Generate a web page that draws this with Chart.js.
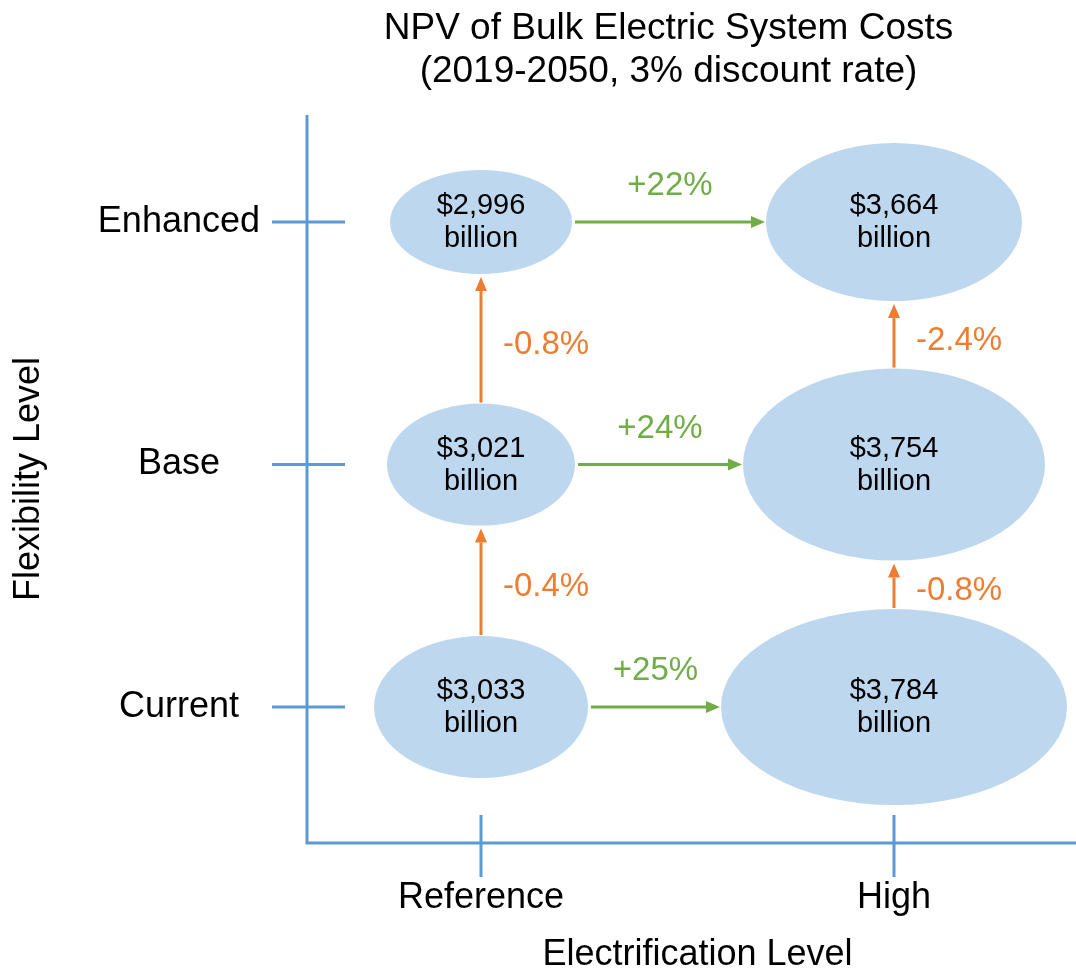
<!DOCTYPE html>
<html>
<head>
<meta charset="utf-8">
<title>NPV of Bulk Electric System Costs</title>
<script src="https://cdn.jsdelivr.net/npm/chart.js@4.4.1/dist/chart.umd.min.js"></script>
<style>
  body { margin: 0; background: #fff; }
</style>
</head>
<body>
<canvas id="grafica" width="1076" height="971"></canvas>
<script>
// Datos (orden: Current, Base, Enhanced)
const nivelesElectrificacion = ['Reference', 'High'];
const nivelesFlexibilidad = ['Current', 'Base', 'Enhanced'];
const costoReference = [3033, 3021, 2996]; // miles de millones de $
const costoHigh = [3784, 3754, 3664];
const cambioElectrificacion = ['+25%', '+24%', '+22%'];
const cambioFlexReference = ['-0.4%', '-0.8%'];
const cambioFlexHigh = ['-0.8%', '-2.4%'];

// Tamaño de cada elipse en px [rx, ry]
const radiosReference = [[107, 71], [94, 61], [91, 52]];
const radiosHigh = [[173, 98], [151, 96], [128, 79]];

const AZUL = '#5B9BD5';
const RELLENO = '#BDD7EE';
const VERDE = '#70AD47';
const NARANJA = '#ED7D31';
const FUENTE = '"Liberation Sans", Arial, sans-serif';

Chart.defaults.font.family = FUENTE;
Chart.defaults.color = '#000';

function puntos(nivel) {
    return nivelesFlexibilidad.map((_, i) => ({ x: nivel, y: i }));
}

// Dibuja una flecha con punta triangular
function flecha(ctx, x1, y1, x2, y2, color) {
    const ang = Math.atan2(y2 - y1, x2 - x1);
    const largo = 14, ancho = 6;
    const bx = x2 - largo * Math.cos(ang);
    const by = y2 - largo * Math.sin(ang);
    ctx.save();
    ctx.strokeStyle = color;
    ctx.fillStyle = color;
    ctx.lineWidth = 3;
    ctx.beginPath();
    ctx.moveTo(x1, y1);
    ctx.lineTo(bx, by);
    ctx.stroke();
    ctx.beginPath();
    ctx.moveTo(x2, y2);
    ctx.lineTo(bx - ancho * Math.sin(ang), by + ancho * Math.cos(ang));
    ctx.lineTo(bx + ancho * Math.sin(ang), by - ancho * Math.cos(ang));
    ctx.closePath();
    ctx.fill();
    ctx.restore();
}

function texto(ctx, txt, x, y, tam, color, alinear) {
    ctx.save();
    ctx.font = tam + 'px ' + FUENTE;
    ctx.fillStyle = color;
    ctx.textAlign = alinear || 'center';
    ctx.textBaseline = 'middle';
    ctx.fillText(txt, x, y);
    ctx.restore();
}

const diagrama = {
    id: 'diagrama',
    beforeDatasetsDraw(chart) {
        const { ctx, chartArea, scales } = chart;
        ctx.save();
        ctx.strokeStyle = AZUL;
        ctx.lineWidth = 3;
        ctx.beginPath();
        // ejes
        ctx.moveTo(chartArea.left, chartArea.top);
        ctx.lineTo(chartArea.left, chartArea.bottom);
        ctx.lineTo(chart.width, chartArea.bottom);
        // marcas que cruzan los ejes
        scales.y.ticks.forEach(t => {
            const y = scales.y.getPixelForValue(t.value);
            ctx.moveTo(chartArea.left - 35, y);
            ctx.lineTo(chartArea.left + 38, y);
        });
        scales.x.ticks.forEach(t => {
            const x = scales.x.getPixelForValue(t.value);
            ctx.moveTo(x, chartArea.bottom - 28);
            ctx.lineTo(x, chartArea.bottom + 34);
        });
        ctx.stroke();
        ctx.restore();
    },
    afterDatasetsDraw(chart) {
        const { ctx } = chart;
        const ref = chart.getDatasetMeta(0).data;
        const alto = chart.getDatasetMeta(1).data;

        // elipses con el costo
        [[ref, costoReference, radiosReference], [alto, costoHigh, radiosHigh]].forEach(([pts, costos, radios]) => {
            pts.forEach((p, i) => {
                ctx.save();
                ctx.fillStyle = RELLENO;
                ctx.beginPath();
                ctx.ellipse(p.x, p.y, radios[i][0], radios[i][1], 0, 0, Math.PI * 2);
                ctx.fill();
                ctx.restore();
                texto(ctx, '$' + costos[i].toLocaleString('en-US'), p.x, p.y - 16, 29, '#000');
                texto(ctx, 'billion', p.x, p.y + 17, 29, '#000');
            });
        });

        // flechas verdes: Reference -> High
        ref.forEach((p, i) => {
            const q = alto[i];
            const x1 = p.x + radiosReference[i][0] + 3;
            const x2 = q.x - radiosHigh[i][0] - 1;
            flecha(ctx, x1, p.y, x2, q.y, VERDE);
            texto(ctx, cambioElectrificacion[i], (x1 + x2) / 2, p.y - 36, 33, VERDE);
        });

        // flechas naranjas: hacia más flexibilidad
        [[ref, radiosReference, cambioFlexReference], [alto, radiosHigh, cambioFlexHigh]].forEach(([pts, radios, cambios]) => {
            cambios.forEach((c, i) => {
                const p = pts[i], q = pts[i + 1];
                const y1 = p.y - radios[i][1] - 1;
                const y2 = q.y + radios[i + 1][1] + 3;
                flecha(ctx, p.x, y1, q.x, y2, NARANJA);
                texto(ctx, c, p.x + 22, (y1 + y2) / 2 + 5, 33, NARANJA, 'left');
            });
        });
    },
    afterDraw(chart) {
        const { ctx, chartArea } = chart;
        texto(ctx, 'Electrification Level', (chartArea.left + chart.width) / 2 + 6, 955, 36, '#000');
    }
};

new Chart(document.getElementById('grafica'), {
    type: 'scatter',
    data: {
        datasets: [
            { label: 'Reference', data: puntos(0), pointRadius: 0, pointHoverRadius: 0 },
            { label: 'High', data: puntos(1), pointRadius: 0, pointHoverRadius: 0 }
        ]
    },
    options: {
        responsive: false,
        animation: false,
        events: [],
        layout: { padding: { left: 0, right: 46, top: 0, bottom: 0 } },
        plugins: {
            legend: { display: false },
            tooltip: { enabled: false },
            title: {
                display: true,
                fullSize: false,
                text: ['NPV of Bulk Electric System Costs', '(2019-2050, 3% discount rate)'],
                color: '#000',
                font: { size: 37, weight: 'normal', lineHeight: 1.15 },
                padding: { top: 8, bottom: 22 }
            }
        },
        scales: {
            x: {
                type: 'linear',
                min: -0.4213,
                max: 1.3293,
                afterBuildTicks: eje => { eje.ticks = nivelesElectrificacion.map((_, i) => ({ value: i })); },
                afterFit: eje => { eje.height = 128; },
                ticks: {
                    callback: v => nivelesElectrificacion[v],
                    font: { size: 36 },
                    padding: 33,
                    autoSkip: false,
                    maxRotation: 0
                },
                grid: { display: false, drawTicks: false },
                border: { display: false }
            },
            y: {
                type: 'linear',
                min: -0.5608,
                max: 2.4412,
                afterBuildTicks: eje => { eje.ticks = nivelesFlexibilidad.map((_, i) => ({ value: i })); },
                afterFit: eje => { eje.width = 307; },
                ticks: {
                    callback: v => nivelesFlexibilidad[v],
                    font: { size: 36 },
                    crossAlign: 'center',
                    padding: 47,
                    autoSkip: false
                },
                title: {
                    display: true,
                    text: 'Flexibility Level',
                    font: { size: 36 },
                    padding: { top: 7, bottom: 0 }
                },
                grid: { display: false, drawTicks: false },
                border: { display: false }
            }
        }
    },
    plugins: [diagrama]
});
</script>
</body>
</html>
